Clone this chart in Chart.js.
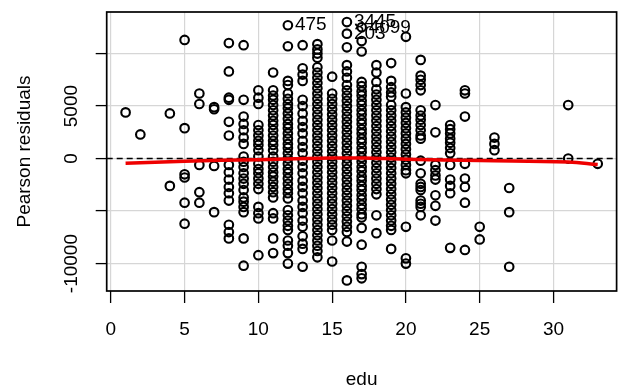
<!DOCTYPE html>
<html>
<head>
<meta charset="utf-8">
<script src="https://cdn.jsdelivr.net/npm/chart.js@4.4.1/dist/chart.umd.min.js"></script>
<style>
  html, body { margin: 0; padding: 0; background: #fff; }
</style>
</head>
<body>
<canvas id="myChart" width="623" height="391"></canvas>
<script>
// education levels (x) and the Pearson residuals observed at each level
var eduLevels = [1, 2, 4, 5, 6, 7, 8, 9, 10, 11, 12, 13, 14, 15, 16, 17, 18, 19, 20, 21, 22, 23, 24, 25, 26, 27, 31, 33];
var residuals = [
  [4400],
  [2300],
  [4300, -2600],
  [11300, 2900, -1500, -1800, -4200, -6200],
  [6200, 5200, -600, -3200, -4200],
  [4900, 4700, -700, -5100],
  [11000, 8300, 5800, 5600, 3500, 2200, -600, -1300, -2000, -2700, -3300, -4000, -6300, -7000, -7600],
  [10800, 5600, 4000, 3300, 2700, 2000, 1400, 200, -300, -800, -1400, -1900, -2400, -3000, -3700, -4100, -4600, -5100, -7600, -10200],
  [6500, 5800, 5200, 3200, 2700, 2200, 1700, 1300, 800, 200, -500, -1000, -1400, -1900, -2400, -2900, -4600, -5200, -5700, -9200],
  [8200, 6500, 6000, 5600, 5100, 4600, 4100, 3600, 3200, 2700, 2200, 1700, 1300, 800, 200, -300, -800, -1300, -1700, -2200, -2700, -3200, -3700, -5200, -5700, -7600, -9000],
  [10700, 7400, 7000, 6200, 5700, 5200, 4800, 4300, 3800, 3300, 2900, 2400, 1900, 1400, 1000, 500, 0, -500, -1000, -1400, -1900, -2400, -2900, -3300, -3800, -4900, -5400, -5900, -6400, -6800, -7800, -8300, -9000, -10000],
  [10800, 8600, 8000, 7400, 5600, 5000, 4300, 3600, 3000, 2400, 1700, 1100, 500, -200, -800, -1400, -2100, -2700, -3300, -4000, -4600, -5200, -5900, -6500, -7400, -8100, -8600, -10300],
  [10900, 10400, 10000, 9600, 8700, 8200, 7700, 7200, 6700, 6200, 5700, 5200, 4700, 4200, 3700, 3200, 2700, 2200, 1700, 1200, 700, 200, -300, -800, -1300, -1800, -2300, -2800, -3300, -3800, -4300, -4800, -5300, -5800, -6300, -6800, -7300, -7800, -8300, -8800, -9400],
  [7800, 6200, 5700, 5200, 4700, 4200, 3700, 3200, 2700, 2200, 1700, 1200, 700, 200, -300, -800, -1300, -1800, -2300, -2800, -3300, -3800, -4300, -4800, -5300, -5800, -6300, -6800, -7800, -9800],
  [10600, 8900, 8300, 7700, 7000, 6500, 6000, 5500, 5000, 4500, 4000, 3500, 3000, 2500, 2000, 1500, 1000, 500, 0, -500, -1000, -1500, -2000, -2500, -3000, -3500, -4000, -4500, -5000, -5500, -6000, -6500, -7000, -7900, -11600],
  [11200, 10200, 7300, 6900, 6400, 6000, 5500, 5100, 4600, 4200, 3700, 3300, 2800, 2400, 1900, 1500, 1000, 600, 100, -300, -800, -1200, -1700, -2100, -2600, -3000, -3500, -3900, -4400, -4800, -5300, -5600, -6600, -8200, -10300, -11000, -11400],
  [8900, 8200, 7300, 6600, 6100, 5600, 5100, 4600, 4100, 3600, 3100, 2600, 2100, 1600, 1100, 600, 100, -400, -900, -1400, -1900, -2400, -2900, -3400, -5400, -7100],
  [9100, 7400, 6800, 6300, 5900, 5100, 4600, 4100, 3600, 3100, 2600, 2100, 1600, 1100, 600, 100, -400, -900, -1400, -1900, -2400, -2900, -3400, -3900, -4400, -4900, -5400, -5900, -6400, -6800, -8600],
  [11600, 6200, 4900, 4400, 3900, 3400, 2900, 2400, 1900, 1400, 900, 400, -100, -600, -1100, -1400, -6500, -9500, -10000],
  [9400, 7900, 7500, 7000, 6500, 4600, 4100, 3700, 3200, 2700, 2200, 1900, -200, -1400, -2400, -2700, -3000, -4000, -4300, -4600, -5400],
  [5100, 2500, -600, -1100, -1600, -2000, -3500, -4500, -5900],
  [3200, 2800, 2400, 1900, 1500, 1000, 500, -600, -2000, -2600, -3300, -8500],
  [6500, 6200, 4000, -500, -1900, -2700, -4200, -8700],
  [-6500, -7700],
  [2000, 1400, 800],
  [-2800, -5100, -10300],
  [5100, 0],
  [-500]
];

// labelled (most extreme) observations
var idEdu = [12, 16, 17, 16];
var idResid = [12700, 13000, 12500, 11900];
var idNames = ['475', '3445', '4099', '203'];

// smoother (red line)
var smoothEdu = [1, 5, 10, 15, 17, 20, 25, 31, 33];
var smoothResid = [-450, -250, -100, 50, 60, -60, -180, -320, -560];

var xLimits = [-0.28, 34.28];
var yLimits = [-12610, 13960];
var xTicks = [0, 5, 10, 15, 20, 25, 30];
var yTicks = [-10000, -5000, 0, 5000, 10000];
var yLabelled = [-10000, 0, 5000];

var points = [];
eduLevels.forEach(function (e, i) {
  residuals[i].forEach(function (r) { points.push({x: e, y: r}); });
});
idEdu.forEach(function (e, i) { points.push({x: e, y: idResid[i]}); });

var FONT = '"Liberation Sans", Arial, sans-serif';
Chart.defaults.font.family = FONT;
Chart.defaults.color = '#000';

var rPlot = {
  id: 'rPlot',
  beforeDatasetsDraw: function (chart) {
    var ctx = chart.ctx, a = chart.chartArea, y0 = chart.scales.y.getPixelForValue(0);
    ctx.save();
    ctx.strokeStyle = '#000';
    ctx.lineWidth = 1.5;
    ctx.setLineDash([6, 4]);
    ctx.beginPath();
    ctx.moveTo(a.left, y0);
    ctx.lineTo(a.right, y0);
    ctx.stroke();
    ctx.restore();
  },
  afterDraw: function (chart) {
    var ctx = chart.ctx, a = chart.chartArea;
    var xs = chart.scales.x, ys = chart.scales.y;
    ctx.save();
    ctx.strokeStyle = '#000';
    ctx.lineWidth = 1.7;
    ctx.strokeRect(a.left, a.top, a.right - a.left, a.bottom - a.top);

    ctx.fillStyle = '#000';
    ctx.font = '19px ' + FONT;
    ctx.textAlign = 'center';
    ctx.textBaseline = 'middle';
    yLabelled.forEach(function (v) {
      ctx.save();
      ctx.translate(a.left - 35, ys.getPixelForValue(v));
      ctx.rotate(-Math.PI / 2);
      ctx.fillText(String(v), 0, 0);
      ctx.restore();
    });

    ctx.textAlign = 'left';
    idNames.forEach(function (n, i) {
      ctx.fillText(n, xs.getPixelForValue(idEdu[i]) + 7, ys.getPixelForValue(idResid[i]));
    });
    ctx.restore();
  }
};

var ctx = document.getElementById('myChart').getContext('2d');
var myChart = new Chart(ctx, {
  type: 'scatter',
  data: {
    datasets: [
      {
        type: 'line',
        data: smoothEdu.map(function (e, i) { return {x: e, y: smoothResid[i]}; }),
        borderColor: '#ee0000',
        borderWidth: 3.5,
        pointRadius: 0,
        tension: 0.4,
        fill: false
      },
      {
        data: points,
        pointStyle: 'circle',
        pointRadius: 4.3,
        borderWidth: 2.1,
        borderColor: '#000',
        backgroundColor: 'rgba(0,0,0,0)'
      }
    ]
  },
  options: {
    responsive: false,
    animation: false,
    devicePixelRatio: 1,
    layout: { padding: { top: 12, right: 2.3, left: 0, bottom: 0 } },
    plugins: { legend: { display: false }, tooltip: { enabled: false } },
    scales: {
      x: {
        type: 'linear',
        min: xLimits[0],
        max: xLimits[1],
        afterBuildTicks: function (s) { s.ticks = xTicks.map(function (v) { return {value: v}; }); },
        ticks: { font: { size: 19 }, color: '#000', padding: 15, maxRotation: 0, autoSkip: false },
        grid: { color: '#d6d6d6', lineWidth: 1.2, tickLength: 12, tickColor: '#000', tickWidth: 1.3 },
        border: { display: false },
        title: { display: true, text: 'edu', font: { size: 19 }, color: '#000', padding: { top: 0, bottom: 0 } },
        afterFit: function (s) { s.height = 100; }
      },
      y: {
        type: 'linear',
        min: yLimits[0],
        max: yLimits[1],
        afterBuildTicks: function (s) { s.ticks = yTicks.map(function (v) { return {value: v}; }); },
        ticks: { display: false },
        grid: { color: '#d6d6d6', lineWidth: 1.2, tickLength: 11, tickColor: '#000', tickWidth: 1.3 },
        border: { display: false },
        title: { display: true, text: 'Pearson residuals', font: { size: 19 }, color: '#000', padding: { top: 13.6, bottom: 0 } },
        afterFit: function (s) { s.width = 106.7; }
      }
    }
  },
  plugins: [rPlot]
});
</script>
</body>
</html>
